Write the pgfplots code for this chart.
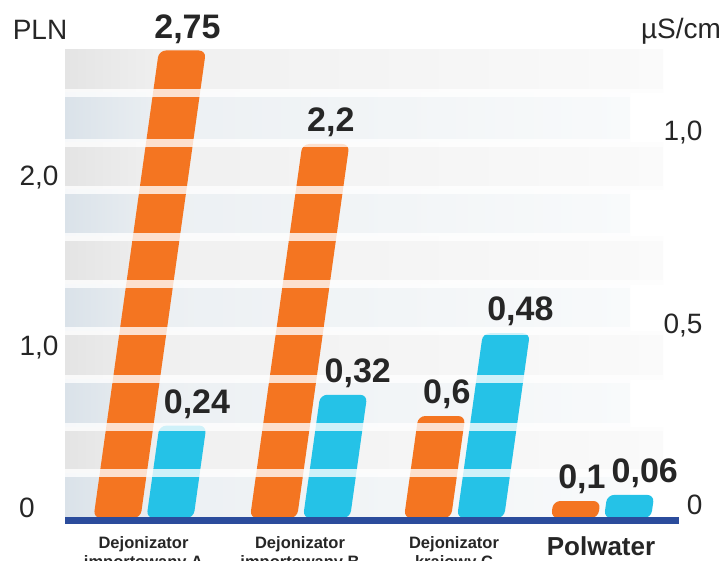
\documentclass[border=0pt]{standalone}
\usepackage{pgfplots}
\pgfplotsset{compat=1.18}
\usepackage{fontspec}
\setmainfont{Liberation Sans}
\definecolor{bOrange}{HTML}{F47521}
\definecolor{bCyan}{HTML}{25C2E7}
\definecolor{bNavy}{HTML}{2B4C9C}
\definecolor{gL}{HTML}{E4E4E4}
\definecolor{gM}{HTML}{F0F0F0}
\definecolor{gR}{HTML}{FAFAFA}
\definecolor{bL}{HTML}{DAE2E9}
\definecolor{bM}{HTML}{ECF0F3}
\definecolor{bR}{HTML}{F8FAFB}
\pgfplotsset{
  base/.style={x=1pt, xmin=0, xmax=615, ymin=0, clip=false,
    axis line style={draw=none}, major tick length=0pt,
    at={(0,0)}, anchor=south west},
  leftax/.style={base, y=170pt, ymax=2.76},
  rightax/.style={base, y=385pt, ymax=1.22},
  barlab/.style={nodes near coords,
    every node near coord/.append style={font=\fontsize{34}{36}\selectfont\bfseries,
      anchor=south, inner sep=0pt, yshift=7pt, xshift=#1, text=black!85},
    /pgf/number format/.cd, use comma, fixed, precision=2, assume math mode=true},
}
\begin{document}
\begin{tikzpicture}
% background bands
\def\bands{468/425/g,425/375/b,375/328/g,328/281/b,281/234/g,234/187/b,187/139/g,139/91/b,91/45/g,45/0/b}
\foreach \ya/\yb/\c in \bands {
  \if\c g
    \shade[left color=gL, right color=gM] (0pt,\yb pt) rectangle (100pt,\ya pt);
    \shade[left color=gM, right color=gR] (99.5pt,\yb pt) rectangle (598pt,\ya pt);
  \else
    \shade[left color=bL, right color=bM] (0pt,\yb pt) rectangle (100pt,\ya pt);
    \shade[left color=bM, right color=bR] (99.5pt,\yb pt) rectangle (565pt,\ya pt);
  \fi
}
% orange bars (PLN)
\begin{axis}[leftax,
  xtick={78.5,235,389,536},
  xticklabels={{Dejonizator\\importowany A},{Dejonizator\\importowany B},{Dejonizator\\krajowy C},{\fontsize{26}{28}\selectfont Polwater}},
  xticklabel style={font=\fontsize{16.5}{19}\selectfont\bfseries, align=center, anchor=north, inner sep=0pt, yshift=-18pt, text=black!85},
  ytick={1,2}, yticklabels={{1,0},{2,0}},
  extra y ticks={0}, extra y tick labels={0},
  extra y tick style={yticklabel style={yshift=10pt, xshift=-12pt}},
  yticklabel style={font=\fontsize{28}{30}\selectfont, anchor=center, xshift=-26pt, text=black!85},
]
\addplot[ybar, bar width=47pt, bar shift=-26.5pt, fill=bOrange, draw=none, rounded corners=7pt, xslant=0.14]
  coordinates {(78.5,2.75) (235,2.2) (389,0.6) (536,0.1)};
\end{axis}
% cyan bars (uS/cm)
\begin{axis}[rightax, xtick=\empty,
  yticklabel pos=right,
  ytick={0.5,1}, yticklabels={{0,5},{1,0}},
  extra y ticks={0}, extra y tick labels={0},
  extra y tick style={yticklabel style={yshift=13pt}},
  yticklabel style={font=\fontsize{28}{30}\selectfont, anchor=east, xshift=26pt, text=black!85},
]
\addplot[ybar, bar width=47pt, bar shift=26.5pt, fill=bCyan, draw=none, rounded corners=7pt, xslant=0.14]
  coordinates {(78.5,0.24) (235,0.32) (389,0.48) (536,0.06)};
\end{axis}
% white stripes and base line
\foreach \y in {425,375,328,281,234,187,139,91,45} {
  \fill[white, opacity=0.78] (-2pt,\y pt-4pt) rectangle (598pt,\y pt+4pt);
}
\fill[bNavy] (0pt,-6pt) rectangle (614pt,1pt);
% value labels
\begin{axis}[leftax, hide axis]
\addplot[ybar, bar width=47pt, bar shift=-26.5pt, draw=none, fill=none, xslant=0.14, barlab=-21.5pt]
  coordinates {(78.5,2.75) (235,2.2) (389,0.6) (536,0.1)};
\end{axis}
\begin{axis}[rightax, hide axis]
\addplot[ybar, bar width=47pt, bar shift=26.5pt, draw=none, fill=none, xslant=0.14, barlab=40.5pt]
  coordinates {(78.5,0.24) (235,0.32) (389,0.48) (536,0.06)};
\end{axis}
% unit titles
\node[font=\fontsize{28}{30}\selectfont, text=black!85] at (-25pt,488pt) {PLN};
\node[font=\fontsize{28}{30}\selectfont, text=black!85] at (616pt,487pt) {µS/cm};
\pgfresetboundingbox
\useasboundingbox (-65pt,-42pt) rectangle (662pt,518pt);
\end{tikzpicture}
\end{document}
